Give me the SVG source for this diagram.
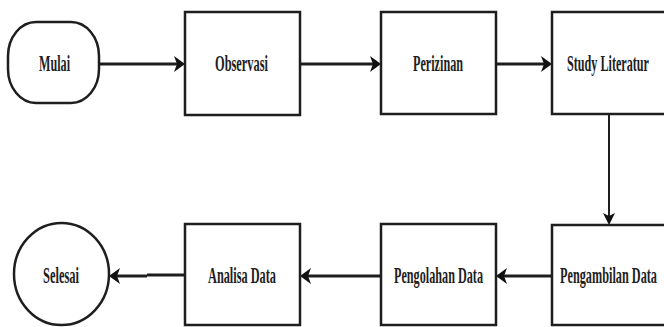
<svg xmlns="http://www.w3.org/2000/svg" width="664" height="327" viewBox="0 0 664 327">
<style>
.n{fill:#fff;stroke:#1e1e1e;stroke-width:2.5}
.t{font-family:"Liberation Serif","Times New Roman",serif;font-size:23px;font-weight:bold;fill:#1e1e1e;text-anchor:start}
.c{fill:none;stroke:#1e1e1e;stroke-width:3}
.v{fill:none;stroke:#1e1e1e;stroke-width:2}
.h{fill:#111;stroke:none}
</style>
<rect width="664" height="327" fill="#fff"/>
<g id="connectors">
<line class="c" x1="99" y1="64" x2="178" y2="64"/>
<path class="h" d="M185,64 L174,56 L177,64 L174,72 Z"/>
<line class="c" x1="300" y1="64" x2="374" y2="64"/>
<path class="h" d="M381,64 L370,56 L373,64 L370,72 Z"/>
<line class="c" x1="496" y1="64" x2="545" y2="64"/>
<path class="h" d="M552,64 L541,56 L544,64 L541,72 Z"/>
<line class="v" x1="609" y1="115" x2="609" y2="218"/>
<path class="h" d="M609,225 L603,213 L609,216 L615,213 Z"/>
<line class="c" x1="552" y1="276" x2="503" y2="276"/>
<path class="h" d="M496,276 L507,268 L504,276 L507,284 Z"/>
<line class="c" x1="381" y1="276" x2="307" y2="276"/>
<path class="h" d="M300,276 L311,268 L308,276 L311,284 Z"/>
<line class="c" x1="185" y1="275" x2="147" y2="275"/>
<line class="c" x1="147" y1="276" x2="116" y2="276"/>
<path class="h" d="M109,276 L120,268 L117,276 L120,284 Z"/>
</g>
<g id="mulai">
<rect class="n" x="8" y="22" width="91" height="81" rx="28" ry="34"/>
<text class="t" x="39" y="71" textLength="31" lengthAdjust="spacingAndGlyphs">Mulai</text>
</g>
<g id="observasi">
<rect class="n" x="185" y="12" width="115" height="103"/>
<text class="t" x="215" y="71" textLength="53" lengthAdjust="spacingAndGlyphs">Observasi</text>
</g>
<g id="perizinan">
<rect class="n" x="381" y="12" width="115" height="102"/>
<text class="t" x="413" y="71" textLength="50" lengthAdjust="spacingAndGlyphs">Perizinan</text>
</g>
<g id="study">
<rect class="n" x="552" y="12" width="116" height="102"/>
<text class="t" x="567" y="71" textLength="82" lengthAdjust="spacingAndGlyphs">Study Literatur</text>
</g>
<g id="pengambilan">
<rect class="n" x="552" y="225" width="116" height="100"/>
<text class="t" x="560" y="283" textLength="97" lengthAdjust="spacingAndGlyphs">Pengambilan Data</text>
</g>
<g id="pengolahan">
<rect class="n" x="381" y="224" width="115" height="101"/>
<text class="t" x="394" y="283" textLength="89" lengthAdjust="spacingAndGlyphs">Pengolahan Data</text>
</g>
<g id="analisa">
<rect class="n" x="185" y="224" width="115" height="101"/>
<text class="t" x="208" y="283" textLength="68" lengthAdjust="spacingAndGlyphs">Analisa Data</text>
</g>
<g id="selesai">
<ellipse class="n" cx="61.5" cy="274" rx="47.5" ry="51"/>
<text class="t" x="43" y="283" textLength="36" lengthAdjust="spacingAndGlyphs">Selesai</text>
</g>
</svg>
